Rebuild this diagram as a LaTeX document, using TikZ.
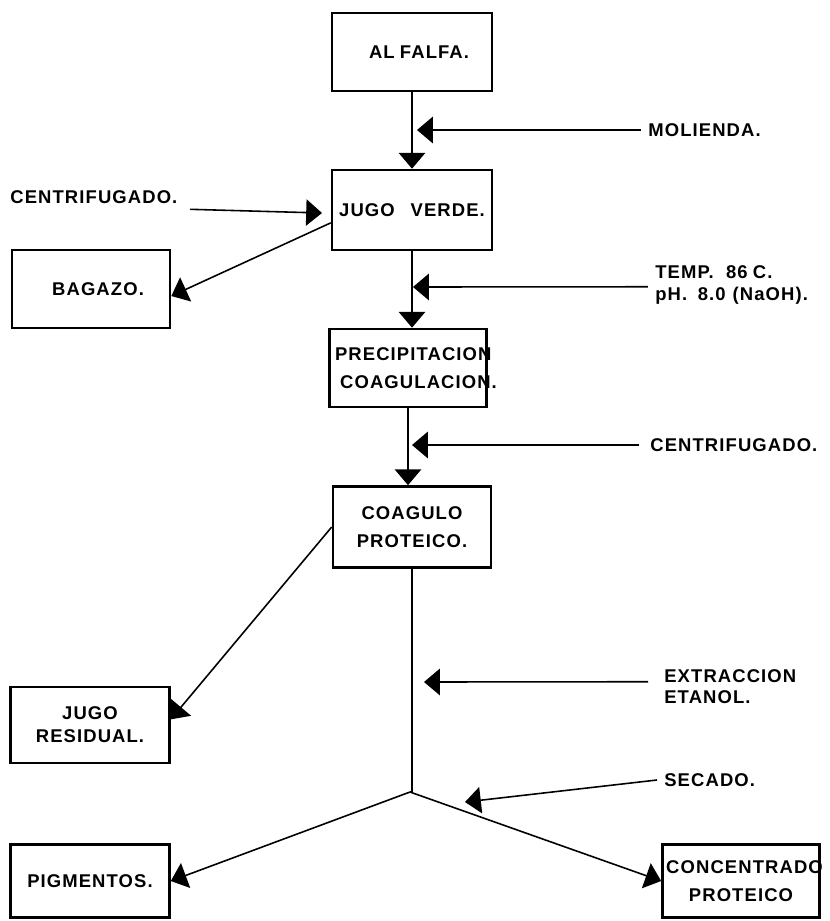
\documentclass[tikz,border=0pt]{standalone}
\usepackage{fontspec}
\usetikzlibrary{arrows.meta}
\newfontfamily\lettering{Liberation Sans}[LetterSpace=6]
\newcommand\lab{\lettering\bfseries\fontsize{10.5}{12}\selectfont}
\begin{document}
\begin{tikzpicture}[x=0.02cm,y=-0.02cm,
  box/.style={draw,line width=1.5pt,inner sep=0pt,align=center,font=\lab},
  lbl/.style={font=\lab,inner sep=0pt,align=left},
  arr/.style={line width=0.9pt,-{Triangle[width=15pt,length=9pt]}},
  side/.style={line width=0.9pt,-{Triangle[width=15pt,length=9pt]}}]
\useasboundingbox (0,0) rectangle (830,921);

% boxes
\node[box,minimum width=3.2cm,minimum height=1.56cm] (alf) at (412,52) {\hspace{8pt}AL\hspace{3pt}FALFA.};
\node[box,minimum width=3.2cm,minimum height=1.6cm] (jugo) at (412,210) {JUGO\hspace{9pt}VERDE.};
\node[box,minimum width=3.16cm,minimum height=1.56cm] (bag) at (91,289) {\hspace{8pt}BAGAZO.};
\node[box,minimum width=3.14cm,minimum height=1.56cm] (prec) at (408,368)
  {\makebox[0pt]{\hspace{6pt}PRECIPITACION}\\[4pt]\makebox[0pt]{\hspace{12pt}COAGULACION.}};
\node[box,minimum width=3.16cm,minimum height=1.62cm] (coag) at (412,527)
  {COAGULO\\[4pt]PROTEICO.};
\node[box,minimum width=3.18cm,minimum height=1.52cm] (jres) at (90,725)
  {JUGO\\[1pt]RESIDUAL.};
\node[box,minimum width=3.18cm,minimum height=1.46cm] (pig) at (90,881) {PIGMENTOS.};
\node[box,minimum width=3.14cm,minimum height=1.46cm] (conc) at (741,881)
  {\makebox[0pt]{\hspace{4pt}CONCENTRADO}\\[4pt]PROTEICO};

% side labels
\node[lbl,anchor=west] (mol) at (648,130) {MOLIENDA.};
\node[lbl,anchor=west] (cenL) at (10,197) {CENTRIFUGADO.};
\node[lbl,anchor=west] (temp) at (655,285) {TEMP.\hspace{7pt}86\hspace{3pt}C.\\[1pt]pH.\hspace{6pt}8.0\hspace{4pt}(NaOH).};
\node[lbl,anchor=west] (cenR) at (650,445) {CENTRIFUGADO.};
\node[lbl,anchor=west] (ext) at (664,687) {EXTRACCION\\ETANOL.};
\node[lbl,anchor=west] (sec) at (664,780) {SECADO.};

% tip coordinates
\coordinate (t1) at (417,130);
\coordinate (t2) at (322,213);
\coordinate (t3) at (413,287);
\coordinate (t4) at (412,445);
\coordinate (t5) at (424,682);
\coordinate (t6) at (465,802);
\coordinate (J) at (410,792);

% main stem
\draw[arr] (alf.south) -- (jugo.north);
\draw[arr] (jugo.south) -- (prec.north -| jugo.south);
\draw[arr] (prec.south) -- (prec.south |- coag.north);
\draw[line width=0.9pt] (coag.south) -- (coag.south |- J) -- (J);

% side inputs
\draw[side] ([xshift=-4pt]mol.west) -- (t1);
\draw[side] ([xshift=7pt,yshift=-7pt]cenL.east) -- (t2);
\draw[side] ([xshift=-4pt,yshift=-1pt]temp.west) -- (t3);
\draw[side] ([xshift=-6pt]cenR.west) -- (t4);
\draw[side] ([xshift=-9pt,yshift=3pt]ext.west) -- (t5);
\draw[side] ([xshift=-4pt]sec.west) -- (t6);

% outputs
\draw[arr] (jugo.189) -- (bag.-5);
\draw[arr] (coag.west) -- (jres.4);
\draw[arr] (J) -- (pig.east);
\draw[arr] (J) -- (conc.west);
\end{tikzpicture}
\end{document}
